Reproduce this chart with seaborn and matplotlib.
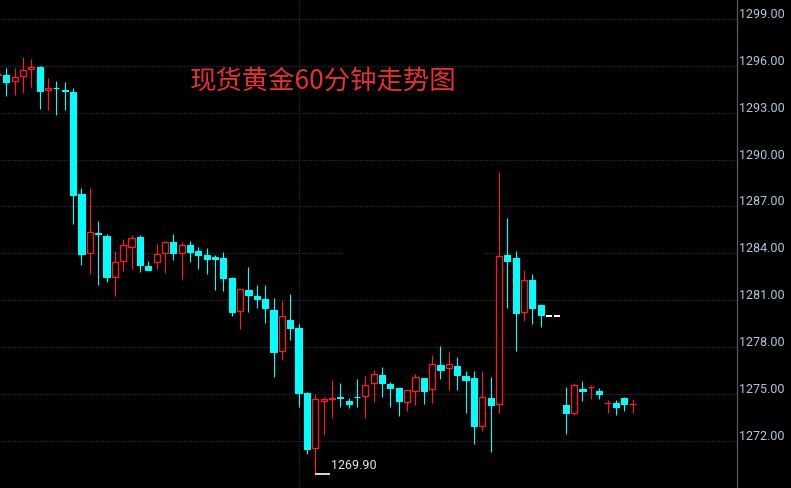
import numpy as np
import pandas as pd
import matplotlib
matplotlib.use("Agg")
import matplotlib.pyplot as plt
from matplotlib.transforms import ScaledTranslation
import seaborn as sns

# ---------------- data ----------------
title = "现货黄金60分钟走势图"
price_ticks = [1272, 1275, 1278, 1281, 1284, 1287, 1290, 1293, 1296, 1299]
min_label = "1269.90"

opens = [1295.42, 1295.42, 1295.05, 1295.37, 1295.78, 1295.93, 1294.48, 1294.60, 1294.47, 1294.33,
         1287.80, 1284.01, 1285.28, 1285.12, 1282.51, 1283.50, 1284.43, 1285.03, 1283.18, 1283.47,
         1284.01, 1284.73, 1284.05, 1284.54, 1284.16, 1283.90, 1283.79, 1283.71, 1282.43, 1280.34,
         1281.66, 1281.28, 1281.09, 1280.38, 1277.78, 1279.74, 1279.23, 1275.07, 1271.57, 1274.56,
         1274.70, 1274.80, 1274.56, 1274.82, 1274.86, 1275.69, 1276.22, 1275.65, 1275.39, 1274.51,
         1275.22, 1276.03, 1275.31, 1276.86, 1276.65, 1276.80, 1276.16, 1276.03, 1272.98, 1274.75,
         1274.39, 1283.90, 1283.71, 1280.23, 1282.30, 1280.70, 1280.00, 1280.00, 1274.30, 1273.81,
         1275.33, 1275.43, 1275.20, 1274.41, 1274.43, 1274.75, 1274.35]
highs = [1295.55, 1295.85, 1295.85, 1296.57, 1296.44, 1295.99, 1295.22, 1295.03, 1294.97, 1294.58,
         1288.19, 1288.19, 1286.08, 1285.26, 1284.16, 1284.92, 1285.18, 1285.18, 1283.52, 1284.60,
         1284.80, 1285.24, 1284.71, 1284.80, 1284.41, 1284.35, 1283.90, 1284.09, 1282.51, 1281.72,
         1283.13, 1281.98, 1281.98, 1281.15, 1280.96, 1281.40, 1279.49, 1275.13, 1275.03, 1274.82,
         1275.90, 1275.71, 1274.73, 1275.97, 1276.16, 1276.54, 1276.73, 1275.77, 1275.39, 1275.24,
         1276.29, 1276.03, 1277.50, 1278.08, 1277.76, 1277.37, 1276.48, 1276.48, 1276.48, 1276.09,
         1289.21, 1286.27, 1284.16, 1282.94, 1282.68, 1280.77, 1280.00, 1280.00, 1275.45, 1275.71,
         1275.84, 1275.58, 1275.39, 1274.62, 1274.62, 1274.82, 1274.69]
lows = [1295.30, 1294.09, 1294.14, 1294.26, 1294.65, 1293.26, 1293.18, 1292.88, 1293.18, 1285.90,
        1283.28, 1282.70, 1281.98, 1282.19, 1281.30, 1282.90, 1283.00, 1282.83, 1282.95, 1283.00,
        1282.75, 1283.58, 1282.36, 1283.45, 1283.00, 1282.68, 1281.66, 1281.60, 1280.00, 1279.17,
        1280.25, 1280.51, 1279.55, 1276.09, 1277.18, 1278.46, 1274.18, 1271.17, 1269.90, 1272.40,
        1273.47, 1274.18, 1274.11, 1274.18, 1273.47, 1274.50, 1274.82, 1274.18, 1273.60, 1273.92,
        1274.30, 1274.37, 1274.41, 1275.97, 1275.26, 1275.26, 1273.79, 1271.81, 1272.64, 1271.30,
        1273.81, 1280.53, 1277.78, 1279.70, 1279.50, 1279.31, 1280.00, 1280.00, 1272.45, 1273.68,
        1274.56, 1274.69, 1274.69, 1273.79, 1273.66, 1273.92, 1273.79]
closes = [1295.48, 1294.99, 1295.27, 1295.72, 1295.93, 1294.41, 1294.57, 1294.55, 1294.42, 1287.76,
          1283.98, 1285.35, 1285.22, 1282.49, 1283.45, 1284.52, 1284.97, 1283.28, 1282.96, 1283.95,
          1284.71, 1284.05, 1284.54, 1284.11, 1283.92, 1283.66, 1283.64, 1282.43, 1280.25, 1281.71,
          1281.34, 1281.09, 1280.51, 1277.69, 1280.00, 1279.23, 1275.07, 1271.49, 1274.69, 1274.69,
          1274.75, 1274.75, 1274.39, 1274.78, 1275.56, 1276.29, 1275.73, 1275.41, 1274.58, 1275.24,
          1276.08, 1275.22, 1276.91, 1276.56, 1276.91, 1276.24, 1275.90, 1272.98, 1274.82, 1274.30,
          1283.82, 1283.54, 1280.21, 1282.28, 1280.53, 1280.08, 1280.00, 1280.00, 1273.81, 1275.58,
          1275.20, 1275.47, 1275.01, 1274.45, 1274.18, 1274.37, 1274.39]
session_break = 36   # dotted vertical separator at this bar

df = pd.DataFrame({"open": opens, "high": highs, "low": lows, "close": closes})
df["idx"] = np.arange(len(df))
flat = (df["high"] == df["low"])
up = (df["close"] >= df["open"]) & ~flat
down = (df["close"] < df["open"]) & ~flat

# ---------------- style ----------------
W, H = 791, 488
sns.set_theme(style="dark", rc={"axes.facecolor": "black", "figure.facecolor": "black"})
plt.rcParams["font.family"] = ["Noto Sans CJK SC", "DejaVu Sans"]

RED = "#ff1a1a"
CYAN = "#00ffff"
GRID = "#2e2e40"

fig = plt.figure(figsize=(W / 100, H / 100), dpi=100)
ax = fig.add_axes([0, 0, 737 / W, 1])
ax.set_facecolor("black")

px = 8.35  # pixels per bar
x0 = -2.05
ax.set_xlim((0 - x0) / px, (737 - x0) / px)
ax.set_ylim(1268.99, 1300.21)

# grid
for t in price_ticks:
    if t == 1284:
        ax.hlines(t, ax.get_xlim()[0], (343 - x0) / px, color=GRID, lw=0.8,
                  linestyle=(0, (1, 1.2)), zorder=0)
        ax.hlines(t, (484 - x0) / px, ax.get_xlim()[1], color=GRID, lw=0.8,
                  linestyle=(0, (1, 1.2)), zorder=0)
    else:
        ax.axhline(t, color=GRID, lw=0.8, linestyle=(0, (1, 1.2)), zorder=0)
ax.axvline(session_break, color=GRID, lw=0.8, linestyle=(0, (1, 1.2)), zorder=0)

bw = 0.74
lw = 0.8
# wicks
ax.vlines(df.loc[down, "idx"], df.loc[down, "low"], df.loc[down, "high"], color=CYAN, lw=lw, zorder=2)
ax.vlines(df.loc[up, "idx"], df.loc[up, "low"], df.loc[up, "high"], color=RED, lw=lw, zorder=2)
# bodies
ax.bar(df.loc[down, "idx"], df.loc[down, "close"] - df.loc[down, "open"], bottom=df.loc[down, "open"],
       width=bw, color=CYAN, edgecolor=CYAN, linewidth=lw, zorder=3)
ax.bar(df.loc[up, "idx"], df.loc[up, "close"] - df.loc[up, "open"], bottom=df.loc[up, "open"],
       width=bw, facecolor="black", edgecolor=RED, linewidth=lw * 1.2, zorder=3)
# flat bars (no trading range)
sns.scatterplot(data=df[flat], x="idx", y="close", marker="_", s=17, color="white",
                linewidth=1.4, ax=ax, zorder=3, legend=False)

# lowest price marker
imin = int(df["low"].idxmin())
lowv = df.loc[imin, "low"]
ax.plot([imin, imin + 15 / px], [lowv, lowv], color="white", lw=1.2, zorder=4,
        solid_capstyle="butt")
ax.text(imin + 15.5 / px, lowv, min_label, color="#e6e6e6", fontsize=9, family="Roboto",
        ha="left", va="bottom", zorder=4,
        transform=ax.transData + ScaledTranslation(0, 0.02, fig.dpi_scale_trans))

# axes
for s in ["top", "left", "bottom"]:
    ax.spines[s].set_visible(False)
ax.spines["right"].set_visible(True)
ax.spines["right"].set_color("#5a5a5a")
ax.spines["right"].set_linewidth(0.9)
ax.set_xticks([])
ax.yaxis.tick_right()
ax.set_yticks(price_ticks)
ax.set_yticklabels([f"{t:.2f}" for t in price_ticks])
ax.tick_params(axis="y", length=0, pad=1.5, labelsize=9, labelcolor="#b4c6e0")
for lab in ax.get_yticklabels():
    lab.set_family("Roboto")
    lab.set_transform(lab.get_transform() + ScaledTranslation(0, 0.06, fig.dpi_scale_trans))
ax.set_xlabel("")
ax.set_ylabel("")

fig.text(190 / W, 1 - 81.5 / H, title, color="#e8302c", fontsize=19,
         family=["Noto Sans CJK SC", "DejaVu Sans"], ha="left", va="center")

fig.savefig("out.png", dpi=100, facecolor="black")
